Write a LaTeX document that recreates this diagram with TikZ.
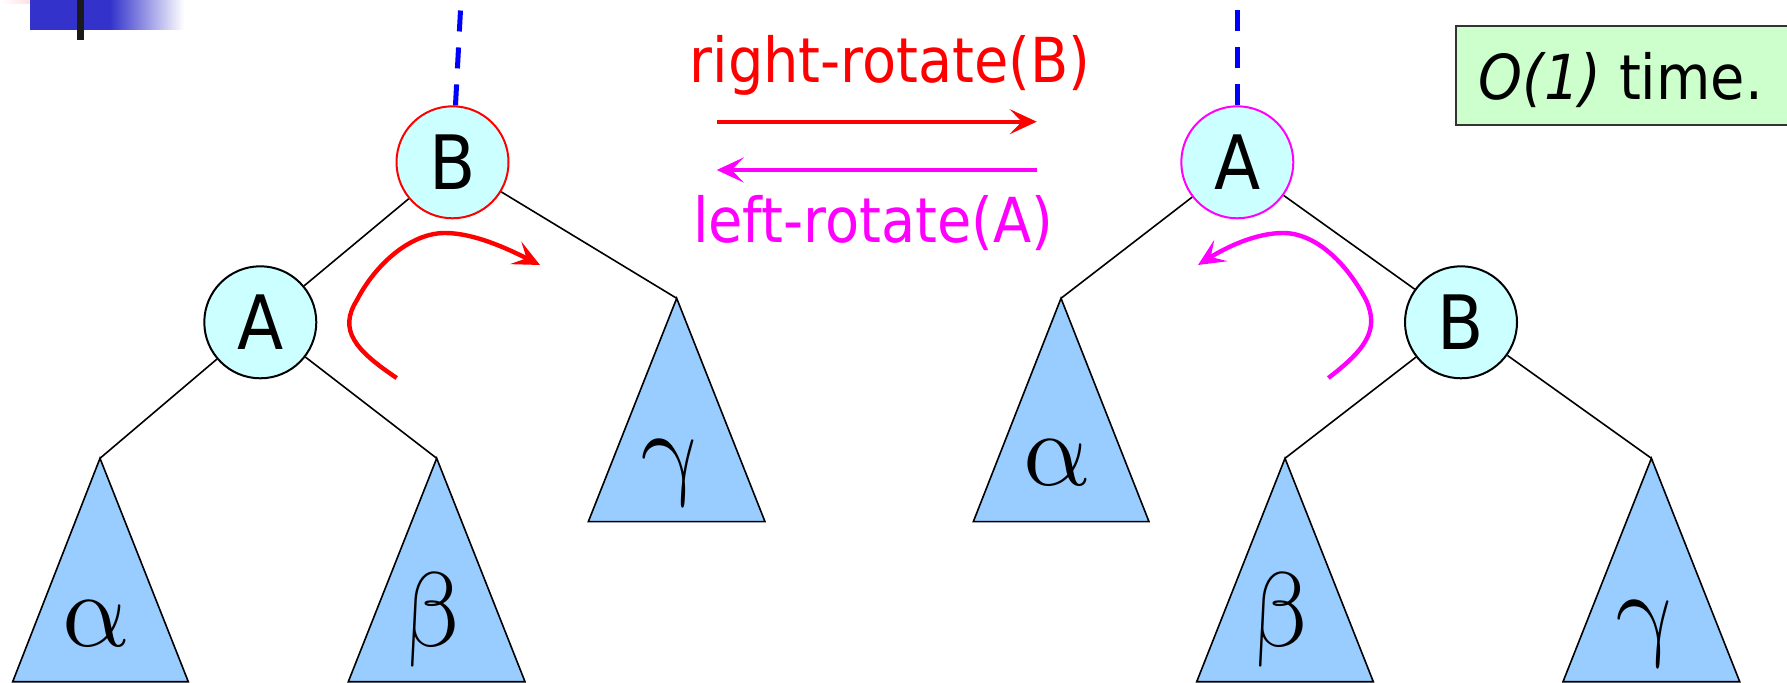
\documentclass[tikz,border=0pt]{standalone}
\usepackage{fontspec}
\newfontfamily\sfc{DejaVu Sans Condensed}
\usetikzlibrary{arrows.meta}
\definecolor{nodefill}{HTML}{CCFFFF}
\definecolor{trifill}{HTML}{99CCFF}
\definecolor{boxfill}{HTML}{CCFFCC}
\definecolor{deco}{HTML}{3333CC}
\definecolor{pinkdeco}{HTML}{FFC0C0}
\definecolor{barcol}{HTML}{1A1A1A}
\definecolor{mag}{RGB}{255,0,255}
\definecolor{rd}{RGB}{255,0,0}
\definecolor{bl}{RGB}{0,0,255}
\begin{document}
\begin{tikzpicture}[x=0.5pt,y=-0.5pt,
  treenode/.style={circle, draw=black, line width=1pt, fill=nodefill, minimum size=56pt, inner sep=0pt, font=\sfc\fontsize{37.5}{40}\selectfont},
  tri/.style={draw=black, line width=0.8pt, fill=trifill, line join=miter},
  edge/.style={draw=black, line width=0.8pt},
  greek/.style={anchor=base, inner sep=0pt, scale=2.13, xslant=-0.2, font=\Huge},
  parentline/.style={draw=bl, line width=2.5pt, dash pattern=on 10.5pt off 8pt},
  headtip/.style={-{Stealth[length=13.5pt,width=12.5pt,inset=6pt]}},
  rotarrow/.style={headtip, line width=2pt},
  curvearrow/.style={headtip, line width=2.2pt},
  label/.style={anchor=base, inner sep=0pt, font=\sfc\fontsize{31}{36}\selectfont},
]
\useasboundingbox (0,0) rectangle (1787,683);

% top-left decoration
\shade[left color=white, right color=pinkdeco] (0,0) rectangle (62,4);
\fill[deco] (30,0) rectangle (110,30);
\shade[left color=deco, right color=white] (110,0) rectangle (184,30);
\fill[barcol] (77,0) rectangle (84,40);

% O(1) box
\node[draw=black!80, line width=1pt, fill=boxfill, minimum width=170pt, minimum height=49.5pt, anchor=north west, inner sep=0pt] (cbox) at (1455,25) {};
\node[label, anchor=base west] (ctext) at (1478,100) {\textit{O(1)} time.};

% triangles (subtrees)
\coordinate (alA) at (100,458.3);
\coordinate (blA) at (436.7,458.3);
\coordinate (glA) at (676.7,298.3);
\coordinate (arA) at (1061,298.3);
\coordinate (brA) at (1285,458.3);
\coordinate (grA) at (1651.4,458.3);
\draw[tri] (alA) -- (12.7,681.7) -- (188.3,681.7) -- cycle;
\draw[tri] (blA) -- (348.3,681.7) -- (525,681.7) -- cycle;
\draw[tri] (glA) -- (588.3,521.7) -- (765,521.7) -- cycle;
\draw[tri] (arA) -- (973.3,521.7) -- (1149,521.7) -- cycle;
\draw[tri] (brA) -- (1196.7,681.7) -- (1373.3,681.7) -- cycle;
\draw[tri] (grA) -- (1563,681.7) -- (1739.7,681.7) -- cycle;
\node[greek] (tal) at (100,646) {$\alpha$};
\node[greek] (tbl) at (436.7,646) {$\beta$};
\node[greek] (tgl) at (676.7,486) {$\gamma$};
\node[greek] (tar) at (1061,486) {$\alpha$};
\node[greek] (tbr) at (1285,646) {$\beta$};
\node[greek] (tgr) at (1651.4,646) {$\gamma$};

% tree nodes
\node[treenode, draw=rd] (Bl) at (452.5,162.3) {B};
\node[treenode] (Al) at (260.3,322.3) {A};
\node[treenode, draw=mag] (Ar) at (1237.3,162.3) {A};
\node[treenode] (Br) at (1461,322.3) {B};

% edges
\draw[edge] (Bl) -- (Al);
\draw[edge] (Bl) -- (glA);
\draw[edge] (Al) -- (alA);
\draw[edge] (Al) -- (blA);
\draw[edge] (Ar) -- (arA);
\draw[edge] (Ar) -- (Br);
\draw[edge] (Br) -- (brA);
\draw[edge] (Br) -- (grA);

% parent links
\coordinate (topL) at (460.5,10);
\coordinate (topR) at (1237.3,10);
\draw[parentline] (Bl) -- (topL);
\draw[parentline] (Ar) -- (topR);

% rotation arrows and labels
\node[label, text=rd] (rr) at (890,83) {right-rotate(B)};
\node[label, text=mag] (lr) at (873,243) {left-rotate(A)};
\coordinate (r1) at (716.7,121.7);
\coordinate (r2) at (1036.7,121.7);
\coordinate (m1) at (1036.7,170);
\coordinate (m2) at (716.7,170);
\draw[rotarrow, rd] (r1) -- (r2);
\draw[rotarrow, mag] (m1) -- (m2);

% curved arrows
\coordinate (cs) at (396.7,378);
\coordinate (ce) at (540,265);
\draw[curvearrow, rd] (cs) .. controls (355,350) and (338,330) .. (357,300)
  .. controls (375,265) and (410,233) .. (445,233)
  .. controls (475,233) and (510,250) .. (ce);
\coordinate (ms) at (1328.3,378);
\coordinate (me) at (1198,265);
\draw[curvearrow, mag] (ms) .. controls (1365,350) and (1380,330) .. (1366,300)
  .. controls (1346,262) and (1315,233) .. (1283,233)
  .. controls (1255,233) and (1225,248) .. (me);
\end{tikzpicture}
\end{document}
